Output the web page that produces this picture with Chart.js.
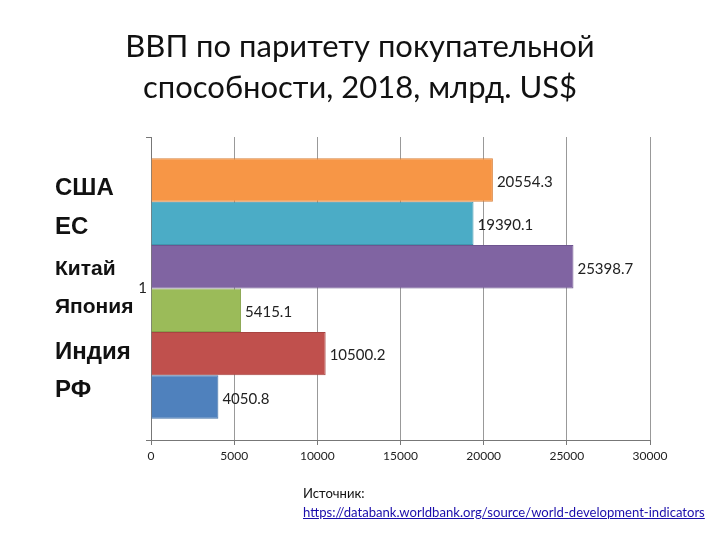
<!DOCTYPE html>
<html>
<head>
<meta charset="utf-8">
<script src="https://cdn.jsdelivr.net/npm/chart.js@4"></script>
<style>
  html, body { margin: 0; padding: 0; background: #fff; }
  #wrap { position: relative; width: 720px; height: 540px; }
  #title {
    position: absolute; left: 0; top: 25px; width: 720px;
    text-align: center; font-family: Lato, sans-serif; font-size: 31px;
    line-height: 41px; color: #111;
  }
  .country {
    position: absolute; left: 55px; font-family: "Liberation Sans", Arial, sans-serif;
    font-weight: bold; color: #111; line-height: 1;
  }
  #source {
    position: absolute; left: 303px; top: 484px; font-family: Lato, sans-serif;
    font-size: 13.1px; line-height: 19px; color: #111;
  }
  #source a { color: #1a0dab; }
  canvas { position: absolute; left: 0; top: 0; }
</style>
</head>
<body>
<div id="wrap">
  <canvas id="chart" width="720" height="540"></canvas>
  <div id="title">ВВП по паритету покупательной<br>способности, 2018, млрд. US$</div>
  <div id="source">Источник:<br><a href="#">https://databank.worldbank.org/source/world-development-indicators</a></div>
</div>
<script>
// Data (one category, one dataset per country, top to bottom)
const categories = ['1'];
const countries = ['США', 'ЕС', 'Китай', 'Япония', 'Индия', 'РФ'];
const gdpValues = [20554.3, 19390.1, 25398.7, 5415.1, 10500.2, 4050.8];
const barColors = ['#F79646', '#4BACC6', '#8064A2', '#9BBB59', '#C0504D', '#4F81BD'];
const borderColors = ['#D9823C', '#3F97AE', '#6E5590', '#86A34B', '#A84441', '#4472A6'];
const xTicks = [0, 5000, 10000, 15000, 20000, 25000, 30000];

// Country labels sit on the slide, slightly offset from the bars
const countryLabelStyle = [
    { top: 175, size: 24 },
    { top: 214, size: 24 },
    { top: 257, size: 21 },
    { top: 295, size: 21 },
    { top: 339, size: 24 },
    { top: 377, size: 24 }
];
const wrap = document.getElementById('wrap');
countries.forEach((name, i) => {
    const el = document.createElement('div');
    el.className = 'country';
    el.textContent = name;
    el.style.top = countryLabelStyle[i].top + 'px';
    el.style.fontSize = countryLabelStyle[i].size + 'px';
    wrap.appendChild(el);
});

// Value labels at the end of each bar
const valueLabels = {
    id: 'valueLabels',
    afterDatasetsDraw(chart) {
        const ctx = chart.ctx;
        ctx.save();
        ctx.font = '15px Lato, sans-serif';
        ctx.fillStyle = '#222';
        ctx.textBaseline = 'middle';
        ctx.textAlign = 'left';
        chart.data.datasets.forEach((ds, i) => {
            const bar = chart.getDatasetMeta(i).data[0];
            ctx.fillText(ds.data[0].toFixed(1), bar.x + 4, bar.y + 2);
        });
        ctx.restore();
    }
};

new Chart(document.getElementById('chart'), {
    type: 'bar',
    data: {
        labels: categories,
        datasets: countries.map((name, i) => ({
            label: name,
            data: [gdpValues[i]],
            backgroundColor: barColors[i],
            borderColor: borderColors[i],
            borderWidth: 1,
            categoryPercentage: 0.86,
            barPercentage: 1.0
        }))
    },
    options: {
        indexAxis: 'y',
        responsive: false,
        animation: false,
        layout: {
            padding: { top: 137, right: 70, bottom: 70, left: 0 }
        },
        plugins: {
            legend: { display: false },
            title: { display: false },
            tooltip: { enabled: false }
        },
        scales: {
            x: {
                min: 0,
                max: 30000,
                afterBuildTicks: (scale) => {
                    scale.ticks = xTicks.map(v => ({ value: v }));
                },
                afterFit: (scale) => { scale.height = 30; },
                ticks: {
                    color: '#222',
                    font: { family: 'Lato, sans-serif', size: 12 },
                    padding: 4,
                    callback: (v) => String(v)
                },
                grid: {
                    color: '#999',
                    tickColor: '#777',
                    tickLength: 5
                },
                border: { color: '#777' }
            },
            y: {
                afterFit: (scale) => { scale.width = 151; },
                ticks: {
                    color: '#222',
                    font: { family: 'Lato, sans-serif', size: 15 },
                    padding: -1
                },
                grid: {
                    drawOnChartArea: false,
                    offset: true,
                    color: '#777',
                    tickLength: 5
                },
                border: { color: '#777' }
            }
        }
    },
    plugins: [valueLabels]
});
</script>
</body>
</html>
